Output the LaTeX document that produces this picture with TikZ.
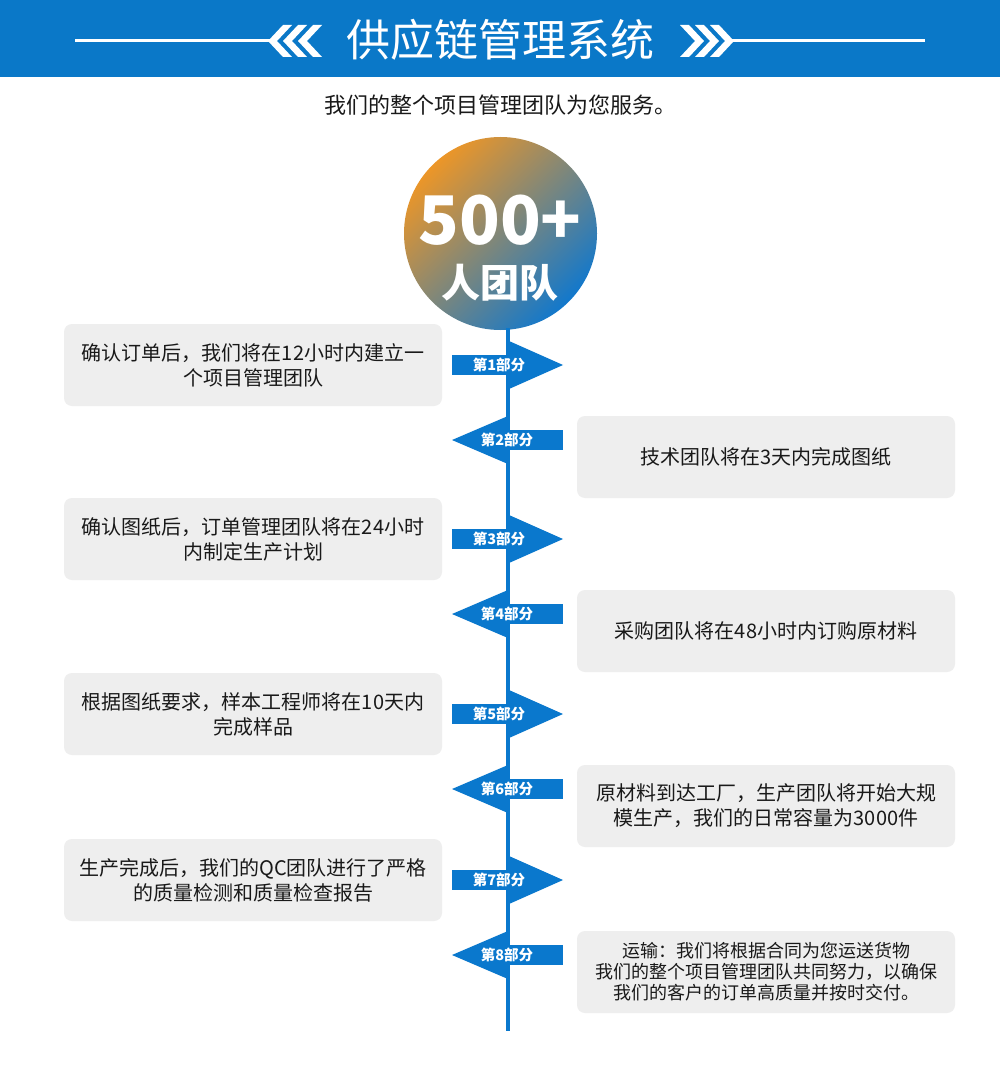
\documentclass[tikz,border=0pt]{standalone}
\usepackage{fontspec}
\setmainfont{Noto Sans CJK SC}
\newfontfamily\cjk{Noto Sans CJK SC}
\definecolor{hblue}{RGB}{10,120,200}
\definecolor{lblue}{RGB}{10,120,205}
\definecolor{corange}{RGB}{236,150,40}
\definecolor{cblue}{RGB}{18,120,204}
\definecolor{boxgray}{RGB}{238,238,238}
\definecolor{txt}{RGB}{25,25,25}
\tikzset{
  box/.style={fill=boxgray, rounded corners=8pt, minimum width=378pt, minimum height=82pt, inner sep=0pt, align=center, text=txt, font=\fontsize{20}{25}\selectfont},
  mtext/.style={text=white, font=\bfseries\fontsize{14.5}{16}\selectfont, inner sep=0pt},
  mark shape/.style={fill=lblue, draw=none},
  vline/.style={draw=lblue, line width=4pt},
  hline/.style={draw=white, line width=3pt},
  chev/.style={fill=white, draw=none}
}
\begin{document}
\begin{tikzpicture}[x=1pt,y=-1pt]
\useasboundingbox (0,0) rectangle (1000,1075);
\fill[white] (0,0) rectangle (1000,1075);
% header
\fill[hblue] (0,0) rectangle (1000,77);
\coordinate (hl1) at (75,41); \coordinate (hl2) at (270,41);
\coordinate (hr1) at (732,41); \coordinate (hr2) at (925,41);
\draw[hline] (hl1) -- (hl2);
\draw[hline] (hr1) -- (hr2);
\foreach \tx in {268,283,298}{
  \fill[chev] (\tx,41) -- (\tx+15,25) -- (\tx+24,25) -- (\tx+9,41) -- (\tx+24,57) -- (\tx+15,57) -- cycle;
}
\foreach \tx in {734,719,704}{
  \fill[chev] (\tx,41) -- (\tx-15,25) -- (\tx-24,25) -- (\tx-9,41) -- (\tx-24,57) -- (\tx-15,57) -- cycle;
}
\node[text=white, font=\fontsize{44}{48}\selectfont, inner sep=0pt] (title) at (500,40) {供应链管理系统};
\node[text=txt, font=\fontsize{22}{24}\selectfont, inner sep=0pt] (sub) at (500,105) {我们的整个项目管理团队为您服务。};
% circle
\shade[top color=corange, bottom color=cblue, shading angle=45] (500.5,233.5) circle (96.5);
\node[circle, minimum size=193pt, inner sep=0pt] (circ) at (500.5,233.5) {};
\node[text=white, font=\bfseries\fontsize{67}{67}\selectfont, inner sep=0pt] (n500) at (500,220) {500+};
\node[text=white, font=\bfseries\fontsize{39}{40}\selectfont, inner sep=0pt] (team) at (500,283) {人团队};
% vertical line
\coordinate (ltop) at (508,328);
\coordinate (lbot) at (508,1031);
\draw[vline] (ltop) -- (lbot);
% markers
\foreach \i/\yc in {1/365,3/539,5/714,7/880}{
  \fill[mark shape] (452,\yc-10) rectangle (510,\yc+10);
  \fill[mark shape] (509,\yc-24) -- (563,\yc) -- (509,\yc+24) -- cycle;
  \node[mtext] (m\i) at (499,\yc) {第\i 部分};
}
\foreach \i/\yc in {2/440,4/614,6/789,8/955}{
  \fill[mark shape] (506,\yc-10) rectangle (563,\yc+10);
  \fill[mark shape] (508,\yc-24) -- (452,\yc) -- (508,\yc+24) -- cycle;
  \node[mtext] (m\i) at (507,\yc) {第\i 部分};
}
% boxes
\node[box] (b1) at (253,365) {确认订单后，我们将在12小时内建立一\\个项目管理团队};
\node[box] (b2) at (766,457) {技术团队将在3天内完成图纸};
\node[box] (b3) at (253,539) {确认图纸后，订单管理团队将在24小时\\内制定生产计划};
\node[box] (b4) at (766,631) {采购团队将在48小时内订购原材料};
\node[box] (b5) at (253,714) {根据图纸要求，样本工程师将在10天内\\完成样品};
\node[box] (b6) at (766,806) {原材料到达工厂，生产团队将开始大规\\模生产，我们的日常容量为3000件};
\node[box] (b7) at (253,880) {生产完成后，我们的QC团队进行了严格\\的质量检测和质量检查报告};
\node[box, font=\fontsize{18}{21}\selectfont] (b8) at (766,972) {运输：我们将根据合同为您运送货物\\我们的整个项目管理团队共同努力，以确保\\我们的客户的订单高质量并按时交付。};
\end{tikzpicture}
\end{document}
